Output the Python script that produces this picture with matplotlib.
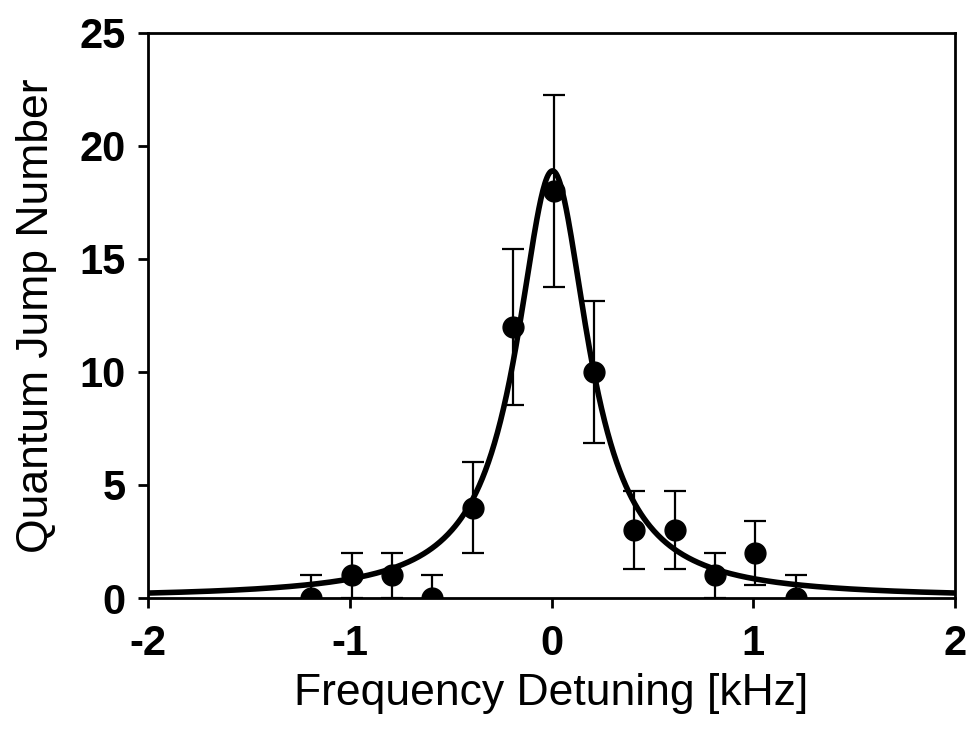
import matplotlib
matplotlib.use("Agg")
import matplotlib.pyplot as plt
import numpy as np

plt.rcParams['axes.unicode_minus'] = False

# Dados medidos (contagens de saltos quanticos)
detuning = [-1.19, -0.99, -0.79, -0.59, -0.39, -0.19, 0.01, 0.21, 0.41, 0.61, 0.81, 1.01, 1.21]
jumps = [0, 1, 1, 0, 4, 12, 18, 10, 3, 3, 1, 2, 0]
jump_err = [1, 1, 1, 1, 2, 3.46, 4.24, 3.16, 1.73, 1.73, 1, 1.41, 1]

# Parametros do ajuste lorentziano
fit_amp = 18.9
fit_center = 0.005
fit_hwhm = 0.217
fit_range = [-2, 2]

font_tick = {"fontsize": 30, "fontweight": "bold", "family": "Liberation Sans"}
font_label = {"fontsize": 32, "family": "Liberation Sans"}

fig = plt.figure(figsize=(9.72, 7.38), dpi=100)
ax = fig.add_axes([0.1523, 0.1897, 0.8302, 0.7656])

x_fit = np.linspace(fit_range[0], fit_range[1], 800)
y_fit = fit_amp * fit_hwhm**2 / ((x_fit - fit_center)**2 + fit_hwhm**2)

ax.errorbar(detuning, jumps, yerr=jump_err, fmt='o', color='black', markersize=15,
            elinewidth=1.6, capsize=8, capthick=1.6, zorder=3)
ax.plot(x_fit, y_fit, color='black', linewidth=4, zorder=4)

ax.set_xlim(-2, 2)
ax.set_ylim(0, 25)
ax.set_xticks([-2, -1, 0, 1, 2])
ax.set_yticks([0, 5, 10, 15, 20, 25])
ax.tick_params(direction='out', length=7, width=2)
ax.tick_params(axis='x', pad=12)
ax.tick_params(axis='y', pad=9)
for lbl in ax.get_xticklabels() + ax.get_yticklabels():
    lbl.set_fontsize(font_tick["fontsize"])
    lbl.set_fontweight(font_tick["fontweight"])
    lbl.set_family(font_tick["family"])
for sp in ax.spines.values():
    sp.set_linewidth(2)

ax.set_xlabel("Frequency Detuning [kHz]", fontdict=font_label, labelpad=6)
ax.set_ylabel("Quantum Jump Number", fontdict=font_label, labelpad=16)

fig.savefig("out.png", dpi=100)
plt.close()
